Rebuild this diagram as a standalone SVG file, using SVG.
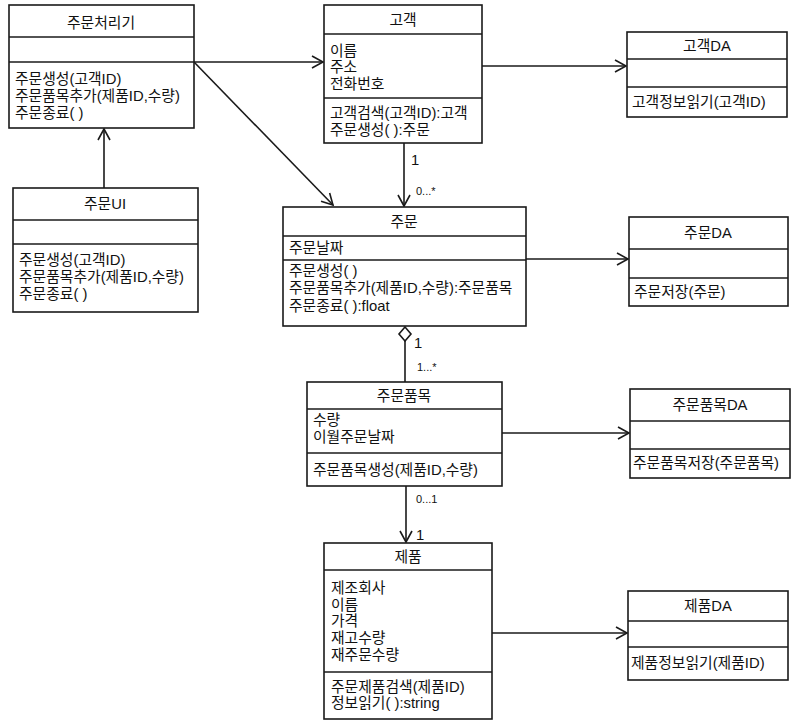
<svg xmlns="http://www.w3.org/2000/svg" width="792" height="723" viewBox="0 0 792 723">
<style>
.box{fill:#fff;stroke:#1a1a1a;stroke-width:1.6}
.div{stroke:#1a1a1a;stroke-width:1.6}
text{font-family:"Liberation Sans","Noto Sans CJK KR",sans-serif;font-size:14.8px;fill:#111}
.t{text-anchor:middle}
.m{font-size:11px}
.c{fill:none;stroke:#1a1a1a;stroke-width:1.6}
</style>
<defs>
<marker id="open" markerWidth="14" markerHeight="14" refX="12" refY="7" orient="auto" markerUnits="userSpaceOnUse">
<path d="M1,1 L12,7 L1,13" fill="none" stroke="#1a1a1a" stroke-width="1.6"/>
</marker>
</defs>
<rect width="792" height="723" fill="#fff"/>
<g id="connectors">
<line class="c" x1="194" y1="62" x2="323" y2="62" marker-end="url(#open)"/>
<line class="c" x1="194" y1="62" x2="333" y2="205" marker-end="url(#open)"/>
<line class="c" x1="104" y1="188" x2="104" y2="129" marker-end="url(#open)"/>
<line class="c" x1="482" y1="66" x2="626" y2="66" marker-end="url(#open)"/>
<line class="c" x1="404" y1="143" x2="404" y2="206" marker-end="url(#open)"/>
<line class="c" x1="526" y1="259" x2="628" y2="259" marker-end="url(#open)"/>
<path class="c" d="M405,327 L411,334 L405,341 L399,334 Z" fill="#fff"/>
<line class="c" x1="405" y1="341" x2="405" y2="382"/>
<line class="c" x1="502" y1="433" x2="629" y2="433" marker-end="url(#open)"/>
<line class="c" x1="406" y1="486" x2="406" y2="542" marker-end="url(#open)"/>
<line class="c" x1="492" y1="633" x2="627" y2="633" marker-end="url(#open)"/>
<text x="411" y="165">1</text>
<text class="m" x="416" y="195">0...*</text>
<text x="414" y="348">1</text>
<text class="m" x="417" y="371">1...*</text>
<text class="m" x="416" y="503">0...1</text>
<text x="416" y="540">1</text>
</g>
<g id="order-processor">
<rect class="box" x="9" y="5" width="185" height="123"/>
<line class="div" x1="9" y1="37" x2="194" y2="37"/>
<line class="div" x1="9" y1="62" x2="194" y2="62"/>
<text class="t" x="101" y="28">주문처리기</text>
<text x="15" y="84">주문생성(고객ID)</text>
<text x="15" y="101">주문품목추가(제품ID,수량)</text>
<text x="15" y="118">주문종료( )</text>
</g>
<g id="customer">
<rect class="box" x="324" y="5" width="158" height="138"/>
<line class="div" x1="324" y1="34" x2="482" y2="34"/>
<line class="div" x1="324" y1="98" x2="482" y2="98"/>
<text class="t" x="403" y="25">고객</text>
<text x="330" y="56">이름</text>
<text x="330" y="72">주소</text>
<text x="330" y="89">전화번호</text>
<text x="330" y="118">고객검색(고객ID):고객</text>
<text x="330" y="135">주문생성( ):주문</text>
</g>
<g id="customer-da">
<rect class="box" x="627" y="32" width="160" height="85"/>
<line class="div" x1="627" y1="59" x2="787" y2="59"/>
<line class="div" x1="627" y1="87" x2="787" y2="87"/>
<text class="t" x="707" y="51">고객DA</text>
<text x="632" y="107">고객정보읽기(고객ID)</text>
</g>
<g id="order-ui">
<rect class="box" x="13" y="188" width="185" height="124"/>
<line class="div" x1="13" y1="220" x2="198" y2="220"/>
<line class="div" x1="13" y1="244" x2="198" y2="244"/>
<text class="t" x="105" y="209">주문UI</text>
<text x="19" y="265">주문생성(고객ID)</text>
<text x="19" y="282">주문품목추가(제품ID,수량)</text>
<text x="19" y="299">주문종료( )</text>
</g>
<g id="order">
<rect class="box" x="283" y="207" width="243" height="119"/>
<line class="div" x1="283" y1="236" x2="526" y2="236"/>
<line class="div" x1="283" y1="260" x2="526" y2="260"/>
<text class="t" x="404" y="227">주문</text>
<text x="289" y="253">주문날짜</text>
<text x="289" y="276">주문생성( )</text>
<text x="289" y="293">주문품목추가(제품ID,수량):주문품목</text>
<text x="289" y="311">주문종료( ):float</text>
</g>
<g id="order-da">
<rect class="box" x="629" y="217" width="159" height="89"/>
<line class="div" x1="629" y1="249" x2="788" y2="249"/>
<line class="div" x1="629" y1="278" x2="788" y2="278"/>
<text class="t" x="708" y="238">주문DA</text>
<text x="634" y="297">주문저장(주문)</text>
</g>
<g id="order-item">
<rect class="box" x="307" y="382" width="195" height="104"/>
<line class="div" x1="307" y1="409" x2="502" y2="409"/>
<line class="div" x1="307" y1="453" x2="502" y2="453"/>
<text class="t" x="404" y="401">주문품목</text>
<text x="313" y="425">수량</text>
<text x="313" y="442">이월주문날짜</text>
<text x="313" y="475">주문품목생성(제품ID,수량)</text>
</g>
<g id="order-item-da">
<rect class="box" x="630" y="389" width="160" height="89"/>
<line class="div" x1="630" y1="421" x2="790" y2="421"/>
<line class="div" x1="630" y1="449" x2="790" y2="449"/>
<text class="t" x="710" y="410">주문품목DA</text>
<text x="633" y="468">주문품목저장(주문품목)</text>
</g>
<g id="product">
<rect class="box" x="324" y="543" width="168" height="176"/>
<line class="div" x1="324" y1="570" x2="492" y2="570"/>
<line class="div" x1="324" y1="672" x2="492" y2="672"/>
<text class="t" x="408" y="562">제품</text>
<text x="331" y="593">제조회사</text>
<text x="331" y="610">이름</text>
<text x="331" y="626">가격</text>
<text x="331" y="643">재고수량</text>
<text x="331" y="660">재주문수량</text>
<text x="331" y="692">주문제품검색(제품ID)</text>
<text x="331" y="708">정보읽기( ):string</text>
</g>
<g id="product-da">
<rect class="box" x="628" y="591" width="160" height="89"/>
<line class="div" x1="628" y1="621" x2="788" y2="621"/>
<line class="div" x1="628" y1="647" x2="788" y2="647"/>
<text class="t" x="708" y="611">제품DA</text>
<text x="631" y="668">제품정보읽기(제품ID)</text>
</g>
</svg>
